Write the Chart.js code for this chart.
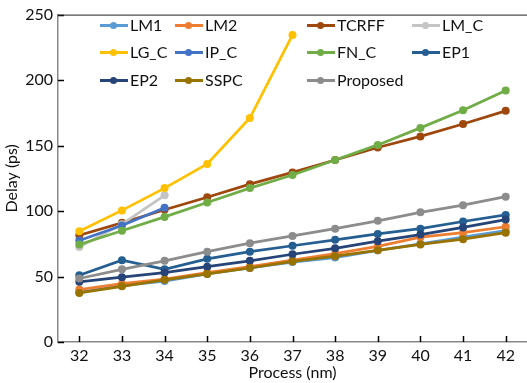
<!DOCTYPE html>
<html>
<head>
<meta charset="utf-8">
<script src="https://cdn.jsdelivr.net/npm/chart.js@4"></script>
<style>
  html, body { margin: 0; padding: 0; background: #fff; overflow: hidden; }
  #wrap { position: relative; width: 531px; height: 383px; }
  .lg { position: absolute; font: 16px Lato, sans-serif; color: #111; line-height: 18px; height: 18px; white-space: nowrap; }
  .lg i { position: absolute; left: 0; top: 8px; width: 28px; height: 3px; }
  .lg b { position: absolute; left: 10px; top: 6px; width: 7px; height: 7px; border-radius: 50%; }
  .lg span { position: absolute; left: 30px; top: 0; }
</style>
</head>
<body>
<div id="wrap">
  <canvas id="lineChart" width="531" height="383"></canvas>
  <div id="legend"></div>
</div>
<script>
// nhãn trục x
var processes = ['32', '33', '34', '35', '36', '37', '38', '39', '40', '41', '42'];

// giá trị delay (ps)
var lm1 = [38, 43, 46.5, 52, 56.5, 61, 64.5, 70, 75, 80, 85];
var lm2 = [40, 44.5, 48, 53, 57.5, 62.5, 67.5, 73, 80, 83.5, 88];
var tcrff = [81.5, 91, 101, 110.5, 120.5, 129.5, 139, 148.5, 157, 166.5, 176.5];
var lmC = [72.5, 90, 112];
var lgC = [84.5, 100.5, 117.5, 136, 171, 234.5];
var ipC = [77.5, 89, 102.5];
var fnC = [74.5, 85, 95.5, 106.5, 117.5, 127.5, 139, 150.5, 163.5, 177, 192];
var ep1 = [51, 62.5, 55.5, 63.5, 69, 73.5, 78, 82.5, 86.5, 92, 97];
var ep2 = [46, 49.5, 53, 57.5, 62, 67, 71.5, 77, 82, 87.5, 93.5];
var sspc = [37.5, 42.5, 47.5, 52, 56.5, 61.5, 65.5, 70, 74.5, 78.5, 83.5];
var proposed = [48.5, 55.5, 62, 69, 75.5, 81, 86.5, 92.5, 99, 104.5, 111];

var seriesNames = ['LM1', 'LM2', 'TCRFF', 'LM_C', 'LG_C', 'IP_C', 'FN_C', 'EP1', 'EP2', 'SSPC', 'Proposed'];
var seriesData = [lm1, lm2, tcrff, lmC, lgC, ipC, fnC, ep1, ep2, sspc, proposed];
var seriesColors = ['#5B9BD5', '#ED7D31', '#9E480E', '#C4C4C4', '#FFC000', '#4472C4', '#70AD47', '#255E91', '#264478', '#997300', '#8C8C8C'];

var yTicks = [0, 50, 100, 150, 200, 250];

// vị trí chú thích (cột, hàng)
var legendCols = [100, 175, 307, 412];
var legendRows = [16, 43, 71];

var legendBox = document.getElementById('legend');
seriesNames.forEach(function(name, i) {
    var d = document.createElement('div');
    d.className = 'lg';
    d.style.left = legendCols[i % 4] + 'px';
    d.style.top = legendRows[Math.floor(i / 4)] + 'px';
    d.innerHTML = '<i style="background:' + seriesColors[i] + '"></i><b style="background:' + seriesColors[i] + '"></b><span>' + name + '</span>';
    legendBox.appendChild(d);
});

// vẽ vạch chia hướng vào trong và đường viền trên
var innerTicks = {
    id: 'innerTicks',
    afterDraw: function(chart) {
        var ctx = chart.ctx, area = chart.chartArea;
        var x = chart.scales.x, y = chart.scales.y;
        ctx.save();
        ctx.strokeStyle = '#000';
        ctx.lineWidth = 1.5;
        ctx.beginPath();
        yTicks.forEach(function(v) {
            var py = Math.round(y.getPixelForValue(v)) + 0.5;
            ctx.moveTo(area.left, py);
            ctx.lineTo(area.left + 6, py);
        });
        processes.forEach(function(p, i) {
            var px = Math.round(x.getPixelForValue(i)) + 0.5;
            ctx.moveTo(px, area.bottom);
            ctx.lineTo(px, area.bottom - 6);
        });
        ctx.stroke();
        ctx.lineWidth = 1;
        ctx.strokeStyle = '#222';
        ctx.beginPath();
        ctx.moveTo(area.left, area.top + 0.5);
        ctx.lineTo(area.right, area.top + 0.5);
        ctx.stroke();
        ctx.restore();
    }
};

var font = { family: 'Lato', size: 16 };
Chart.defaults.color = '#111';

var ctx = document.getElementById('lineChart').getContext('2d');
var myChart = new Chart(ctx, {
    type: 'line',
    data: {
        labels: processes,
        datasets: seriesNames.map(function(name, i) {
            return {
                label: name,
                data: seriesData[i],
                borderColor: seriesColors[i],
                backgroundColor: seriesColors[i],
                borderWidth: 2.75,
                pointRadius: 4,
                pointBorderWidth: 0,
                fill: false,
                order: 100 - i
            };
        })
    },
    plugins: [innerTicks],
    options: {
        responsive: false,
        animation: false,
        layout: { padding: { top: 13, right: 0, left: 2, bottom: 0 } },
        plugins: {
            legend: { display: false },
            tooltip: { enabled: false }
        },
        scales: {
            x: {
                offset: true,
                grid: { drawOnChartArea: false, drawTicks: false },
                border: { color: '#888', width: 1.5 },
                ticks: { font: font, padding: 4, maxRotation: 0 },
                title: { display: true, text: 'Process (nm)', font: font, padding: { top: 0, bottom: 1 } },
                afterFit: function(s) { s.height = 41; }
            },
            y: {
                min: 0,
                max: 250,
                grid: { drawOnChartArea: false, drawTicks: false },
                border: { color: '#888', width: 1.5 },
                ticks: { font: font, padding: 5, stepSize: 50 },
                title: { display: true, text: 'Delay (ps)', font: font, padding: { top: 0, bottom: 0 } },
                afterFit: function(s) { s.width = 56; }
            }
        }
    }
});
</script>
</body>
</html>
